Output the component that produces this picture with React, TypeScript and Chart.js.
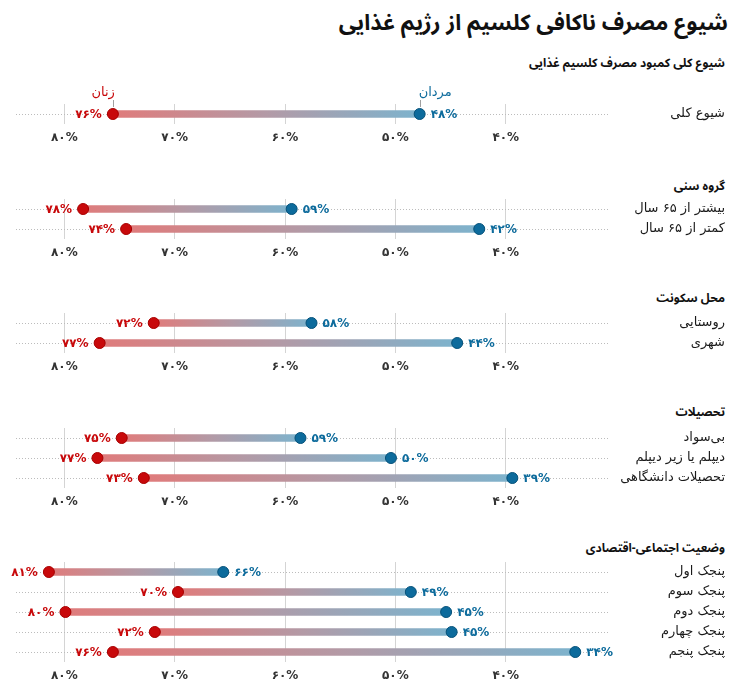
import React, { useEffect, useRef } from 'react';
import { Chart, registerables } from 'chart.js';

Chart.register(...registerables);

// ---------- data ----------
const titleText = 'شیوع مصرف ناکافی کلسیم از رژیم غذایی';
const subtitleText = 'شیوع کلی کمبود مصرف کلسیم غذایی';
const womenLabel = 'زنان';
const menLabel = 'مردان';

const overallCategories = ['شیوع کلی'];
const overallWomen = [75.6];
const overallMen = [47.8];

const ageHeader = 'گروه سنی';
const ageCategories = ['بیشتر از ۶۵ سال', 'کمتر از ۶۵ سال'];
const ageWomen = [78.3, 74.4];
const ageMen = [59.4, 42.4];

const residenceHeader = 'محل سکونت';
const residenceCategories = ['روستایی', 'شهری'];
const residenceWomen = [71.9, 76.8];
const residenceMen = [57.6, 44.4];

const educationHeader = 'تحصیلات';
const educationCategories = ['بی‌سواد', 'دیپلم یا زیر دیپلم', 'تحصیلات دانشگاهی'];
const educationWomen = [74.8, 77.0, 72.8];
const educationMen = [58.6, 50.4, 39.4];

const sesHeader = 'وضعیت اجتماعی-اقتصادی';
const sesCategories = ['پنجک اول', 'پنجک سوم', 'پنجک دوم', 'پنجک چهارم', 'پنجک پنجم'];
const sesWomen = [81.4, 69.7, 79.9, 71.8, 75.6];
const sesMen = [65.6, 48.6, 45.4, 44.9, 33.7];

const xTicks = [80, 70, 60, 50, 40];

// ---------- styling ----------
const FONT = "'DejaVu Sans', 'Noto Sans', sans-serif";
const HEAD_FONT = "'Noto Sans Arabic', 'Noto Naskh Arabic', 'DejaVu Sans', sans-serif";
const WOMEN_COLOR = '#c8090b';
const WOMEN_BORDER = '#a80000';
const MEN_COLOR = '#0d6b9c';
const MEN_BORDER = '#07527a';
const BAR_RED = '#e07b7b';
const BAR_BLUE = '#7db3cd';
const X_MIN = 30.55;
const X_MAX = 84.38;
const PAD_TOP = 30;
const AXIS_H = 30;
const ROW_H = 20;

const toFa = (s: string) => s.replace(/\d/g, (d) => '۰۱۲۳۴۵۶۷۸۹'[+d]);
const pct = (v: number) => toFa(String(Math.round(v))) + '%';

type PanelProps = {
  categories: string[];
  women: number[];
  men: number[];
  top: number;
  showLegend?: boolean;
};

function Panel({ categories, women, men, top, showLegend }: PanelProps) {
  const ref = useRef<HTMLCanvasElement>(null);
  const n = categories.length;
  const height = PAD_TOP + n * ROW_H + AXIS_H;

  useEffect(() => {
    const canvas = ref.current;
    if (!canvas) return;

    const labelsPlugin = {
      id: 'dumbbellLabels',
      afterDatasetsDraw(chart: any) {
        const { ctx, scales } = chart;
        const xs = scales.x;
        const ys = scales.y;
        ctx.save();
        ctx.textBaseline = 'middle';
        categories.forEach((cat, i) => {
          const yy = ys.getPixelForValue(i);
          // category label
          ctx.direction = 'rtl';
          ctx.textAlign = 'right';
          ctx.fillStyle = '#1a1a1a';
          ctx.font = `13px ${FONT}`;
          ctx.fillText(cat, 725, yy);
          // value labels
          ctx.direction = 'ltr';
          ctx.font = `bold 12px ${FONT}`;
          const xw = xs.getPixelForValue(women[i]);
          const xm = xs.getPixelForValue(men[i]);
          ctx.fillStyle = WOMEN_COLOR;
          ctx.textAlign = 'right';
          ctx.fillText(pct(women[i]), xw - 11, yy + 0.5);
          ctx.fillStyle = MEN_COLOR;
          ctx.textAlign = 'left';
          ctx.fillText(pct(men[i]), xm + 11, yy + 0.5);
          if (showLegend && i === 0) {
            ctx.strokeStyle = '#a0a0a0';
            ctx.lineWidth = 1;
            ctx.beginPath();
            ctx.moveTo(Math.round(xw) + 0.5, yy - 14);
            ctx.lineTo(Math.round(xw) + 0.5, yy - 7);
            ctx.moveTo(Math.round(xm) + 0.5, yy - 14);
            ctx.lineTo(Math.round(xm) + 0.5, yy - 7);
            ctx.stroke();
            ctx.direction = 'rtl';
            ctx.font = `13px ${FONT}`;
            ctx.fillStyle = WOMEN_COLOR;
            ctx.textAlign = 'right';
            ctx.fillText(womenLabel, xw + 2, yy - 21);
            ctx.fillStyle = MEN_COLOR;
            ctx.textAlign = 'left';
            ctx.fillText(menLabel, xm - 1, yy - 21);
          }
        });
        ctx.restore();
      },
    };

    const barColor = (c: any) => {
      const chart = c.chart;
      if (c.dataIndex == null || !chart.chartArea || !chart.scales.x) return BAR_RED;
      const xs = chart.scales.x;
      const x0 = xs.getPixelForValue(women[c.dataIndex]);
      const x1 = xs.getPixelForValue(men[c.dataIndex]);
      if (!isFinite(x0) || !isFinite(x1) || x0 === x1) return BAR_RED;
      const g = chart.ctx.createLinearGradient(x0, 0, x1, 0);
      g.addColorStop(0, BAR_RED);
      g.addColorStop(0.5, '#b39aa6');
      g.addColorStop(1, BAR_BLUE);
      return g;
    };

    const chart = new Chart(canvas, {
      type: 'bar',
      data: {
        labels: categories,
        datasets: [
          {
            type: 'bar',
            data: categories.map((_, i) => [women[i], men[i]]) as any,
            backgroundColor: barColor as any,
            barThickness: 7,
            borderWidth: 0,
            borderSkipped: false,
            order: 3,
          },
          {
            type: 'line',
            data: women,
            showLine: false,
            pointRadius: 5.5,
            pointBackgroundColor: WOMEN_COLOR,
            pointBorderColor: WOMEN_BORDER,
            pointBorderWidth: 1,
            order: 1,
          } as any,
          {
            type: 'line',
            data: men,
            showLine: false,
            pointRadius: 5.5,
            pointBackgroundColor: MEN_COLOR,
            pointBorderColor: MEN_BORDER,
            pointBorderWidth: 1,
            order: 1,
          } as any,
        ],
      },
      options: {
        indexAxis: 'y',
        responsive: false,
        animation: false,
        events: [],
        layout: { padding: { top: PAD_TOP, left: 16, right: 129, bottom: 0 } },
        plugins: {
          legend: { display: false },
          tooltip: { enabled: false },
        },
        scales: {
          x: {
            type: 'linear',
            reverse: true,
            min: X_MIN,
            max: X_MAX,
            afterBuildTicks: (s: any) => {
              s.ticks = xTicks.map((v) => ({ value: v }));
            },
            afterFit: (s: any) => {
              s.height = AXIS_H;
            },
            grid: { color: '#d4d4d4', lineWidth: 1, drawTicks: false },
            border: { display: false },
            ticks: {
              padding: 7,
              color: '#333333',
              font: { family: FONT, size: 12, weight: 'bold' },
              maxRotation: 0,
              autoSkip: false,
              callback: (v: any) => pct(Number(v)),
            },
          },
          y: {
            type: 'category',
            position: 'right',
            offset: true,
            afterFit: (s: any) => {
              s.width = 0;
            },
            grid: { offset: false, color: '#bcbcbc', lineWidth: 1, drawTicks: false },
            border: { display: false, dash: [1, 2] },
            ticks: { display: false },
          },
        },
      } as any,
      plugins: [labelsPlugin],
    });
    return () => chart.destroy();
  }, []);

  return (
    <canvas
      ref={ref}
      width={739}
      height={height}
      style={{ position: 'absolute', left: 0, top: top - PAD_TOP, width: 739, height }}
    />
  );
}

const headerStyle = (centerY: number, size: number): React.CSSProperties => ({
  position: 'absolute',
  right: 14,
  top: centerY - 14,
  height: 28,
  lineHeight: '28px',
  fontSize: size,
  fontWeight: 'bold',
  direction: 'rtl',
  whiteSpace: 'nowrap',
  color: '#111',
  fontFamily: HEAD_FONT,
});

export default function App() {
  return (
    <div
      style={{
        position: 'fixed',
        left: 0,
        top: 0,
        width: 739,
        height: 696,
        background: '#ffffff',
        overflow: 'hidden',
        fontFamily: FONT,
      }}
    >
      <div style={{ ...headerStyle(23, 22), right: 11 }}>{titleText}</div>
      <div style={headerStyle(64, 12)}>{subtitleText}</div>
      <div style={headerStyle(187, 12)}>{ageHeader}</div>
      <div style={headerStyle(299, 12)}>{residenceHeader}</div>
      <div style={headerStyle(413, 12)}>{educationHeader}</div>
      <div style={headerStyle(549, 12)}>{sesHeader}</div>
      <Panel categories={overallCategories} women={overallWomen} men={overallMen} top={104} showLegend />
      <Panel categories={ageCategories} women={ageWomen} men={ageMen} top={199} />
      <Panel categories={residenceCategories} women={residenceWomen} men={residenceMen} top={313} />
      <Panel categories={educationCategories} women={educationWomen} men={educationMen} top={428} />
      <Panel categories={sesCategories} women={sesWomen} men={sesMen} top={562} />
    </div>
  );
}
